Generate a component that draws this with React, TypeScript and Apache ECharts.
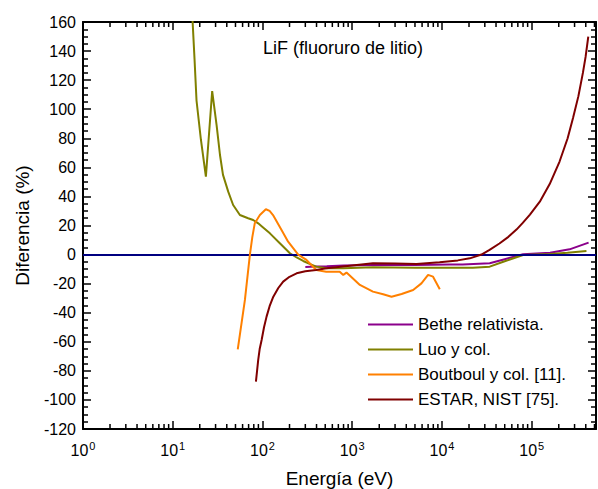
import React, { useEffect, useRef } from "react";
import * as echarts from "echarts";

// Energy (eV) and percentage difference for each model
const betheEnergy = [300, 400, 520, 800, 1700, 5000, 12000, 17000, 34000, 50000, 80000, 160000, 264000, 430000];
const betheDiff = [-8.5, -8.2, -8, -7.6, -7.2, -7.2, -6.8, -6.8, -6.0, -3.2, 0.2, 1.3, 3.6, 8.2];

const luoEnergy = [16.4, 17.5, 18.4, 20.6, 23.4, 27.5, 30.8, 33.6, 36.3, 41.5, 47.1, 56, 69.2, 78.7, 89.6, 100, 121, 156, 202, 240, 284, 340, 398, 517, 800, 1700, 5000, 12000, 22000, 34000, 50000, 80000, 160000, 250000, 407000];
const luoDiff = [168, 134, 106, 79, 53.6, 112.5, 89, 68.5, 54.8, 43.3, 34.1, 27.2, 25, 23.8, 21.5, 19, 14.6, 7.8, 0.9, -2, -4.4, -6.6, -8.3, -9.4, -9.4, -8.7, -9, -9, -9, -8.3, -4.6, -0.3, 0.4, 1.2, 2.5];

const boutboulEnergy = [53, 63.7, 72.4, 77, 82, 93.5, 109, 120, 131, 163, 193, 250, 309, 398, 513, 725, 794, 863, 1217, 1700, 2210, 2740, 3550, 4770, 5900, 7000, 7950, 9450];
const boutboulDiff = [-65.2, -31.2, 0, 12, 21.5, 27.2, 31.2, 30, 27.2, 16.9, 8.9, 0, -3.7, -10.6, -11.8, -11.8, -14, -12.4, -20.9, -25.5, -27.3, -29, -27.1, -24.4, -19.8, -14, -15.2, -23.9];

const estarEnergy = [84.5, 87, 89.6, 93, 97.8, 104, 111, 120, 132, 150, 170, 200, 240, 300, 396, 515, 700, 1000, 1700, 3000, 5200, 9400, 15000, 20400, 27540, 33900, 43650, 54950, 67600, 79400, 95500, 123000, 158500, 204200, 251200, 288400, 331100, 371500, 398100, 426600];
const estarDiff = [-87.4, -80, -72.5, -65, -58.8, -50, -42.7, -35.5, -29, -23, -18.6, -15.3, -12.9, -11.5, -10.6, -9.4, -8.5, -7.5, -6.0, -6.2, -6.5, -5.3, -4, -2.6, 0, 3.2, 7.6, 12.2, 17.2, 21.8, 27.5, 36.4, 48.5, 64, 80, 94, 109, 125, 136, 150];

const seriesNames = ["Bethe relativista.", "Luo y col.", "Boutboul y col. [11].", "ESTAR, NIST [75]."];
const seriesColors = ["#8b008b", "#808000", "#ff8000", "#800000"];

const energyMin = 1;
const energyMax = 520000;
const diffMin = -120;
const diffMax = 160;
const diffStep = 20;

const FONT = "'Liberation Sans', Arial, sans-serif";

function pairs(xs: number[], ys: number[]) {
  return xs.map((x, i) => [x, ys[i]]);
}

// Minor ticks of the logarithmic axis: 2..9 times each decade
function minorLogTicks(): number[][] {
  const out: number[][] = [];
  for (let k = 0; k <= 5; k++) {
    for (let m = 2; m <= 9; m++) {
      const v = m * Math.pow(10, k);
      if (v < energyMax) out.push([v, diffMin]);
    }
  }
  return out;
}

function decadeLabel(value: number) {
  const e = Math.log10(value);
  const r = Math.round(e);
  if (Math.abs(e - r) > 1e-6) return "";
  return `{b|10}{s|${r}}`;
}

export default function App() {
  const ref = useRef<HTMLDivElement>(null);

  useEffect(() => {
    if (!ref.current) return;
    const chart = echarts.init(ref.current, undefined, { renderer: "svg" });

    const energies = [betheEnergy, luoEnergy, boutboulEnergy, estarEnergy];
    const diffs = [betheDiff, luoDiff, boutboulDiff, estarDiff];

    const lineSeries = energies.map((xs, i) => ({
      name: seriesNames[i],
      type: "line" as const,
      data: pairs(xs, diffs[i]),
      symbol: "none",
      showSymbol: false,
      lineStyle: { color: seriesColors[i], width: 2 },
      itemStyle: { color: seriesColors[i] },
      clip: true,
      z: 3 + i,
    }));

    const xAxisBase = {
      type: "log" as const,
      logBase: 10,
      min: energyMin,
      max: energyMax,
      splitLine: { show: false },
      axisLine: { show: true, onZero: false, lineStyle: { color: "#000", width: 2 } },
      axisTick: { show: true, inside: true, length: 8, lineStyle: { color: "#000", width: 1.5 } },
    };
    const yAxisBase = {
      type: "value" as const,
      min: diffMin,
      max: diffMax,
      interval: diffStep,
      splitLine: { show: false },
      axisLine: { show: true, onZero: false, lineStyle: { color: "#000", width: 2 } },
      axisTick: { show: true, inside: true, length: 8, lineStyle: { color: "#000", width: 1.5 } },
      minorTick: { show: true, splitNumber: 4, length: 5, lineStyle: { color: "#000", width: 1.5 } },
      minorSplitLine: { show: false },
    };

    chart.setOption({
      animation: false,
      textStyle: { fontFamily: FONT, color: "#000" },
      graphic: [
        {
          type: "text",
          x: 263,
          y: 39,
          silent: true,
          style: {
            text: "LiF (fluoruro de litio)",
            fontFamily: FONT,
            fontSize: 18,
            fill: "#000",
            textAlign: "left",
            textVerticalAlign: "top",
          },
        },
      ],
      legend: {
        data: seriesNames,
        orient: "vertical",
        left: 368,
        top: 316,
        padding: 0,
        icon: "rect",
        itemWidth: 45,
        itemHeight: 2,
        itemGap: 8,
        textStyle: { fontFamily: FONT, fontSize: 17, lineHeight: 17, color: "#000" },
      },
      grid: { left: 83, right: 2, top: 22, bottom: 60, containLabel: false, outerBoundsMode: "none" },
      xAxis: [
        {
          ...xAxisBase,
          position: "bottom",
          name: "Energía (eV)",
          nameLocation: "middle",
          nameGap: 40,
          nameTextStyle: { fontFamily: FONT, fontSize: 19, color: "#000" },
          axisLabel: {
            show: true,
            margin: 11,
            showMaxLabel: false,
            formatter: decadeLabel,
            rich: {
              b: { fontFamily: FONT, fontSize: 16, color: "#000", lineHeight: 20 },
              s: { fontFamily: FONT, fontSize: 11, color: "#000", lineHeight: 20, verticalAlign: "top", padding: [0, 0, 8, 1] },
            },
          },
        },
        {
          ...xAxisBase,
          position: "top",
          axisLabel: { show: false },
        },
      ],
      yAxis: [
        {
          ...yAxisBase,
          position: "left",
          name: "Diferencia (%)",
          nameLocation: "middle",
          nameGap: 51,
          nameTextStyle: { fontFamily: FONT, fontSize: 19, color: "#000" },
          axisLabel: { show: true, margin: 7, fontFamily: FONT, fontSize: 16, color: "#000" },
        },
        {
          ...yAxisBase,
          position: "right",
          axisLabel: { show: false },
        },
      ],
      series: [
        {
          name: "cero",
          type: "line",
          data: [],
          markLine: {
            silent: true,
            symbol: "none",
            label: { show: false },
            lineStyle: { color: "#000080", width: 2, type: "solid" },
            data: [{ yAxis: 0 }],
          },
          z: 2,
        },
        ...lineSeries,
        {
          name: "minorTicks",
          type: "custom",
          silent: true,
          data: minorLogTicks(),
          renderItem: (params: any, api: any) => {
            const x = api.coord([api.value(0), api.value(1)])[0];
            const cs = params.coordSys;
            const bottom = cs.y + cs.height;
            const style = { stroke: "#000", lineWidth: 1.5 };
            return {
              type: "group",
              children: [
                { type: "line", shape: { x1: x, y1: bottom, x2: x, y2: bottom - 5 }, style },
                { type: "line", shape: { x1: x, y1: cs.y, x2: x, y2: cs.y + 5 }, style },
              ],
            };
          },
          z: 10,
        },
      ],
    });

    return () => chart.dispose();
  }, []);

  return (
    <div
      ref={ref}
      style={{ position: "fixed", left: 0, top: 0, width: 598, height: 489, background: "#fff" }}
    />
  );
}
